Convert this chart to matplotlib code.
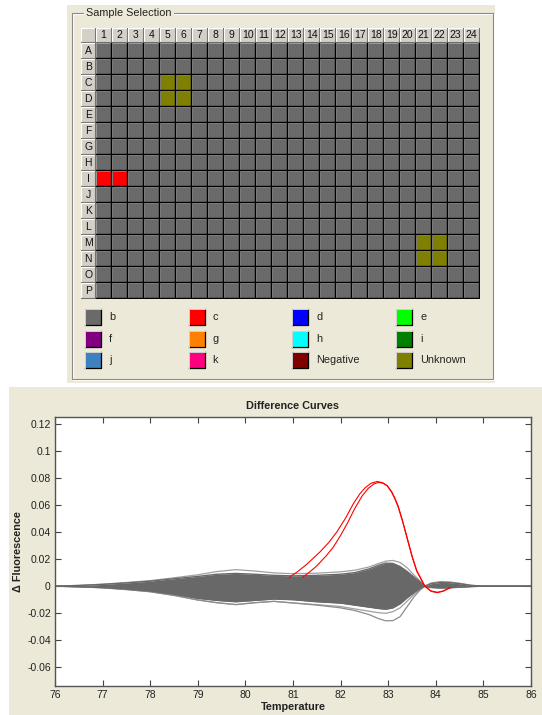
import matplotlib
matplotlib.use("Agg")
import matplotlib.pyplot as plt
from matplotlib.patches import Rectangle

plt.rcParams['font.family'] = ['Liberation Sans', 'DejaVu Sans']

# ---- plate data ----
row_names = list("ABCDEFGHIJKLMNOP")
col_names = [str(i) for i in range(1, 25)]
unknown_wells = ['C5', 'C6', 'D5', 'D6', 'M21', 'M22', 'N21', 'N22']
c_wells = ['I1', 'I2']

legend_labels = ['b', 'c', 'd', 'e', 'f', 'g', 'h', 'i', 'j', 'k', 'Negative', 'Unknown']
legend_colors = ['#6a6a6a', '#ff0000', '#0000ff', '#00ff00', '#800080', '#ff8000',
                 '#00ffff', '#008000', '#3f80c0', '#ff0080', '#800000', '#808000']

# ---- difference curve data ----
temps = [76.0, 76.5, 77.0, 77.5, 78.0, 78.5, 79.0, 79.4, 79.8, 80.2, 80.6, 81.0, 81.5, 82.0,
         82.3, 82.6, 82.8, 82.95, 83.1, 83.25, 83.4, 83.55, 83.68, 83.77, 83.9, 84.1, 84.3,
         84.5, 84.75, 85.0, 86.0]
band_upper = [0, 0.0005, 0.0013, 0.0024, 0.0037, 0.0055, 0.0072, 0.0088, 0.0094, 0.0088, 0.0080,
              0.0076, 0.0080, 0.0088, 0.0100, 0.0128, 0.0155, 0.0170, 0.0168, 0.0145, 0.0108,
              0.0065, 0.0028, 0.0, 0.0018, 0.0028, 0.0026, 0.0018, 0.0005, 0, 0]
band_lower = [0, -0.0004, -0.0010, -0.0021, -0.0036, -0.0060, -0.0090, -0.0105, -0.0115, -0.0105,
              -0.0095, -0.0100, -0.0115, -0.0125, -0.0140, -0.0155, -0.0165, -0.0170, -0.0160,
              -0.0130, -0.0085, -0.0045, -0.0015, 0, -0.0008, -0.0012, -0.0010, -0.0007,
              -0.0002, 0, 0]
outer_upper = [0, 0.0006, 0.0015, 0.0027, 0.0041, 0.0062, 0.0084, 0.0108, 0.0122, 0.0112, 0.0098,
               0.0092, 0.0096, 0.0106, 0.0118, 0.0142, 0.0168, 0.0185, 0.0190, 0.0175, 0.0135,
               0.0080, 0.0035, 0.0, 0.0024, 0.0034, 0.0031, 0.0022, 0.0007, 0, 0]
outer_lower = [0, -0.0005, -0.0012, -0.0025, -0.0041, -0.0068, -0.0102, -0.0122, -0.0136, -0.0122,
               -0.0112, -0.0124, -0.0136, -0.0150, -0.0168, -0.0185, -0.0196, -0.0200, -0.0188,
               -0.0160, -0.0110, -0.0058, -0.0020, 0, -0.0010, -0.0014, -0.0012, -0.0008,
               -0.0003, 0, 0]
deep_lower = [0, -0.0005, -0.0012, -0.0025, -0.0041, -0.0068, -0.0102, -0.0122, -0.0136, -0.0122,
              -0.0112, -0.0124, -0.0140, -0.0160, -0.0180, -0.0210, -0.0240, -0.0256, -0.0254,
              -0.0225, -0.0150, -0.0075, -0.0025, 0, -0.0010, -0.0014, -0.0012, -0.0008,
              -0.0003, 0, 0]

red1_t = [80.92, 81.1, 81.3, 81.57, 81.75, 81.92, 82.1, 82.27, 82.4, 82.52, 82.64, 82.77, 82.88,
          82.98, 83.07, 83.14, 83.21, 83.3, 83.4, 83.5, 83.6, 83.77, 83.9, 84.03, 84.15, 84.3]
red1_y = [0.0065, 0.0108, 0.0165, 0.0254, 0.0322, 0.0400, 0.0500, 0.0610, 0.0680, 0.0728, 0.0760,
          0.0773, 0.0764, 0.0740, 0.0695, 0.0645, 0.0585, 0.0480, 0.0350, 0.0220, 0.0110, 0.0,
          -0.0038, -0.0048, -0.0038, -0.0012]
red2_t = [81.2, 81.35, 81.5, 81.7, 81.85, 82.0, 82.15, 82.3, 82.45, 82.58, 82.7, 82.8, 82.9,
          82.98, 83.07, 83.14, 83.21, 83.3, 83.4, 83.5, 83.6, 83.77, 83.9, 84.03, 84.15, 84.3]
red2_y = [0.0065, 0.0105, 0.0150, 0.0225, 0.0290, 0.0375, 0.0470, 0.0575, 0.0665, 0.0722, 0.0755,
          0.0766, 0.0760, 0.0742, 0.0700, 0.0650, 0.0590, 0.0485, 0.0355, 0.0225, 0.0115, 0.0,
          -0.0035, -0.0045, -0.0036, -0.0010]

xticks = list(range(76, 87))
yticks = [-0.06, -0.04, -0.02, 0, 0.02, 0.04, 0.06, 0.08, 0.1, 0.12]
yticklabels = ['-0.06', '-0.04', '-0.02', '0', '0.02', '0.04', '0.06', '0.08', '0.1', '0.12']

BEIGE = '#ece9d8'
W, H = 542, 715
fig = plt.figure(figsize=(W / 100, H / 100), dpi=100)
fig.patch.set_facecolor('white')


def px_box(x0, y0, x1, y1):
    return [x0 / W, 1 - y1 / H, (x1 - x0) / W, (y1 - y0) / H]


# background panels
bg = fig.add_axes([0, 0, 1, 1])
bg.set_xlim(0, W)
bg.set_ylim(H, 0)
bg.axis('off')
bg.add_patch(Rectangle((67, 5), 428, 378, fc=BEIGE, ec='none'))
bg.add_patch(Rectangle((9, 387), 533, 328, fc=BEIGE, ec='none'))
bg.add_patch(Rectangle((72.5, 13.5), 421, 366, fill=False, ec='white', lw=0.8))
bg.add_patch(Rectangle((71.5, 12.5), 421, 366, fill=False, ec='#8a8a8a', lw=0.8))
bg.text(86, 12.5, 'Sample Selection', ha='left', va='center', fontsize=7.8, color='#222222',
        bbox=dict(fc=BEIGE, ec='none', pad=1.5))

# legend of sample types
for i, (lab, col) in enumerate(zip(legend_labels, legend_colors)):
    x = 85 + (i % 4) * 103.7
    y = 309 + (i // 4) * 21.5
    bg.add_patch(Rectangle((x, y), 16, 16, fc=col, ec='none'))
    bg.plot([x, x + 16, x + 16], [y + 16, y + 16, y], color='black', lw=0.9)
    bg.plot([x, x, x + 16], [y + 16, y, y], color='#d0d0d0', lw=0.7)
    bg.text(x + 24, y + 8, lab, ha='left', va='center', fontsize=7.8, color='#222222')

# plate grid
pl = fig.add_axes(px_box(81, 28, 480, 299))
hw = 15 / 16
pl.set_xlim(-hw, 24)
pl.set_ylim(16, -hw)
pl.axis('off')
pl.add_patch(Rectangle((0, 0), 24, 16, fc='#9a9a9a', ec='none'))


def header(x, y, w, h, txt):
    pl.add_patch(Rectangle((x, y), w, h, fc='#d4d0c8', ec='none'))
    pl.plot([x, x, x + w], [y + h, y, y], color='white', lw=0.8)
    pl.plot([x, x + w, x + w], [y + h, y + h, y], color='#707070', lw=0.8)
    if txt:
        pl.text(x + w / 2, y + h / 2, txt, ha='center', va='center', fontsize=7.5, color='#111111')


header(-hw, -hw, hw - 0.05, hw - 0.05, '')
for c, name in enumerate(col_names):
    header(c, -hw, 0.95, hw - 0.05, name)
for r, name in enumerate(row_names):
    header(-hw, r, hw - 0.05, 0.95, name)

for r, rn in enumerate(row_names):
    for c, cn in enumerate(col_names):
        well = rn + cn
        col = '#6a6a6a'
        if well in unknown_wells:
            col = '#808000'
        elif well in c_wells:
            col = '#ff0000'
        pl.add_patch(Rectangle((c + 1 / 16, r + 1 / 16), 13.5 / 16, 13.5 / 16, fc=col, ec='none'))
        pl.plot([c + 0.02, c + 14.8 / 16, c + 14.8 / 16], [r + 14.8 / 16, r + 14.8 / 16, r + 0.02],
                color='black', lw=1.0)

# difference curves
ax = fig.add_axes(px_box(55, 417, 531, 686))
ax.set_facecolor('white')
ax.fill_between(temps, band_lower, band_upper, color='#686868', lw=0)
ax.plot(temps, outer_upper, color='#a0a0a0', lw=0.9)
ax.plot(temps, outer_lower, color='#a0a0a0', lw=0.9)
ax.plot(temps, deep_lower, color='#8c8c8c', lw=0.9)
ax.plot(temps, band_upper, color='#686868', lw=1.0)
ax.plot(temps, band_lower, color='#686868', lw=1.0)
ax.plot(red1_t, red1_y, color='#ff0000', lw=0.8)
ax.plot(red2_t, red2_y, color='#ff0000', lw=0.8)

ax.set_xlim(76, 86)
ax.set_ylim(-0.0737, 0.1249)
ax.set_xticks(xticks)
ax.set_xticklabels([str(t) for t in xticks])
ax.set_yticks(yticks)
ax.set_yticklabels(yticklabels)
ax.tick_params(direction='in', top=True, right=True, length=4, width=0.8, labelsize=7.5,
               labelcolor='#222222', color='#444444', pad=3)
for sp in ax.spines.values():
    sp.set_color('#555555')
    sp.set_linewidth(1.0)
ax.set_title('Difference Curves', fontsize=7.8, fontweight='bold', pad=6, color='#222222')
ax.set_xlabel('Temperature', fontsize=7.8, fontweight='bold', labelpad=1, color='#222222')
ax.set_ylabel('\u0394 Fluorescence', fontsize=7.8, fontweight='bold', labelpad=3, color='#222222')

fig.savefig('out.png', dpi=100, facecolor='white')
